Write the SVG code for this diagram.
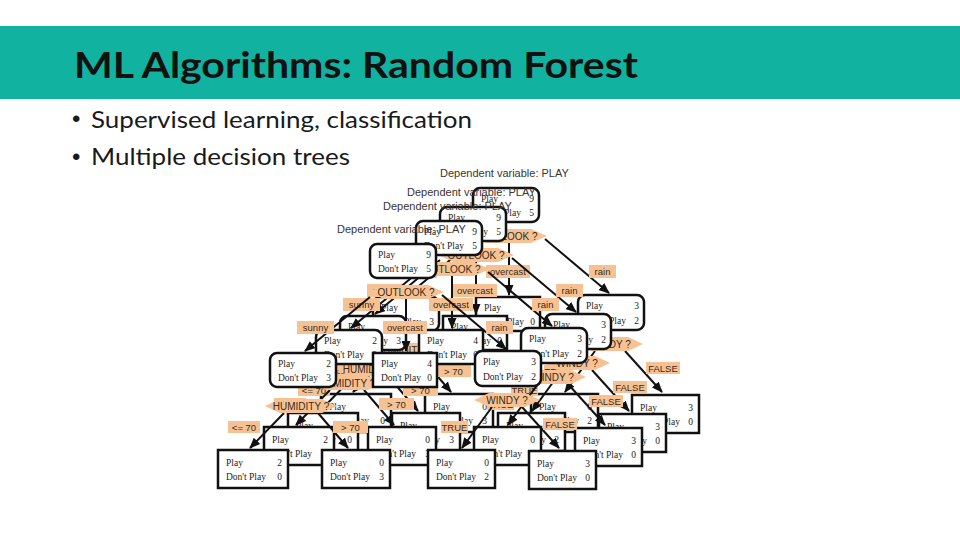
<svg xmlns="http://www.w3.org/2000/svg" width="960" height="540" viewBox="0 0 960 540">
<defs>
<style>
.box{fill:#fff;stroke:#111;stroke-width:2.5}
.t{font-family:"Liberation Serif",serif;font-size:9.5px;fill:#222}
.n{text-anchor:end}
.q{fill:#f6c293}
.ql{font-family:"Liberation Sans",sans-serif;font-size:10px;fill:#3a2a1a;text-anchor:middle}
.lb{fill:#f6c293}
.lt{font-family:"Liberation Sans",sans-serif;font-size:9.5px;fill:#3a2a1a;text-anchor:middle}
.e{stroke:#111;stroke-width:2;fill:none;marker-end:url(#ah)}
.dv{font-family:"Liberation Sans",sans-serif;font-size:11px;fill:#3a3430}
.title{font-family:"Lato","Liberation Sans",sans-serif;font-weight:bold;font-size:37px;fill:#111}
.bul{font-family:"Lato","Liberation Sans",sans-serif;font-size:24px;fill:#1a1a1a}
.dot{font-family:"Liberation Sans",sans-serif;font-size:24px;fill:#1a1a1a}
</style>
<marker id="ah" markerUnits="userSpaceOnUse" markerWidth="11" markerHeight="9" refX="10" refY="4.5" orient="auto">
<path d="M0,0 L11,4.5 L0,9 Z" fill="#111"/>
</marker>
</defs>
<rect x="0" y="0" width="960" height="540" fill="#fff"/>
<g id="header">
<rect x="0" y="26" width="960" height="73" fill="#12b2a0"/>
<text class="title" x="74" y="78" textLength="564" lengthAdjust="spacingAndGlyphs">ML Algorithms: Random Forest</text>
</g>
<g id="bullets">
<text class="dot" x="72" y="127">•</text>
<text class="bul" x="91" y="128" textLength="381" lengthAdjust="spacingAndGlyphs">Supervised learning, classification</text>
<text class="dot" x="72" y="165">•</text>
<text class="bul" x="91" y="165" textLength="259" lengthAdjust="spacingAndGlyphs">Multiple decision trees</text>
</g>

<!-- TREE 1 (back) -->
<g id="tree1" transform="translate(103,-56)">
<g id="tree1-connectors">
<line class="e" x1="370" y1="297" x2="305" y2="351"/>
<line class="e" x1="406" y1="299" x2="406" y2="351"/>
<line class="e" x1="442" y1="295" x2="506" y2="349"/>
<line class="e" x1="284" y1="413" x2="250" y2="448"/>
<line class="e" x1="318" y1="413" x2="348" y2="448"/>
<line class="e" x1="492" y1="407" x2="462" y2="448"/>
<line class="e" x1="522" y1="407" x2="559" y2="448"/>
<rect class="lb" x="297" y="321" width="37" height="13"/><text class="lt" x="315.5" y="331">sunny</text>
<rect class="lb" x="383" y="321" width="44" height="13"/><text class="lt" x="405" y="331">overcast</text>
<rect class="lb" x="486" y="321" width="27" height="13"/><text class="lt" x="499.5" y="331">rain</text>
<rect class="lb" x="228" y="421" width="32" height="12"/><text class="lt" x="244" y="430.5">&lt;= 70</text>
<rect class="lb" x="333" y="421" width="35" height="12"/><text class="lt" x="350.5" y="430.5">&gt; 70</text>
<rect class="lb" x="441" y="421" width="27" height="12"/><text class="lt" x="454.5" y="430.5">TRUE</text>
<rect class="lb" x="543" y="418" width="34" height="12"/><text class="lt" x="560" y="427.5">FALSE</text>
</g>
<g id="tree1-root">
<text class="dv" x="337" y="233">Dependent variable: PLAY</text>
<rect class="box" x="370" y="244" width="66" height="34" rx="7"/>
<text class="t" x="378" y="258">Play</text><text class="t n" x="431" y="258">9</text>
<text class="t" x="378" y="272">Don't Play</text><text class="t n" x="431" y="272">5</text>
<polygon class="q" points="368,292 384,285 428,285 444,292 428,299 384,299"/>
<text class="ql" x="406" y="296">OUTLOOK ?</text>
</g>
<g id="tree1-sunny">
<rect class="box" x="270" y="353" width="66" height="34" rx="7"/>
<text class="t" x="278" y="367">Play</text><text class="t n" x="331" y="367">2</text>
<text class="t" x="278" y="381">Don't Play</text><text class="t n" x="331" y="381">3</text>
<polygon class="q" points="265,406 280,399 322,399 337,406 322,413 280,413"/>
<text class="ql" x="301" y="410">HUMIDITY ?</text>
</g>
<g id="tree1-overcast">
<rect class="box" x="373" y="353" width="64" height="34"/>
<text class="t" x="381" y="367">Play</text><text class="t n" x="432" y="367">4</text>
<text class="t" x="381" y="381">Don't Play</text><text class="t n" x="432" y="381">0</text>
</g>
<g id="tree1-rain">
<rect class="box" x="475" y="351" width="66" height="35" rx="7"/>
<text class="t" x="483" y="365">Play</text><text class="t n" x="536" y="365">3</text>
<text class="t" x="483" y="380">Don't Play</text><text class="t n" x="536" y="380">2</text>
<polygon class="q" points="474,400 489,393 525,393 540,400 525,407 489,407"/>
<text class="ql" x="507" y="404">WINDY ?</text>
</g>
<g id="tree1-leaf1">
<rect class="box" x="218" y="450" width="70" height="38"/>
<text class="t" x="226" y="466">Play</text><text class="t n" x="282" y="466">2</text>
<text class="t" x="226" y="480">Don't Play</text><text class="t n" x="282" y="480">0</text>
</g>
<g id="tree1-leaf2">
<rect class="box" x="322" y="450" width="68" height="38"/>
<text class="t" x="330" y="466">Play</text><text class="t n" x="384" y="466">0</text>
<text class="t" x="330" y="480">Don't Play</text><text class="t n" x="384" y="480">3</text>
</g>
<g id="tree1-leaf3">
<rect class="box" x="428" y="450" width="67" height="38"/>
<text class="t" x="436" y="466">Play</text><text class="t n" x="489" y="466">0</text>
<text class="t" x="436" y="480">Don't Play</text><text class="t n" x="489" y="480">2</text>
</g>
<g id="tree1-leaf4">
<rect class="box" x="529" y="451" width="67" height="38"/>
<text class="t" x="537" y="467">Play</text><text class="t n" x="590" y="467">3</text>
<text class="t" x="537" y="481">Don't Play</text><text class="t n" x="590" y="481">0</text>
</g>
</g>

<!-- TREE 2 -->
<g id="tree2" transform="translate(70,-37)">
<g id="tree2-connectors">
<line class="e" x1="370" y1="297" x2="305" y2="351"/>
<line class="e" x1="406" y1="299" x2="406" y2="351"/>
<line class="e" x1="442" y1="295" x2="506" y2="349"/>
<line class="e" x1="284" y1="413" x2="250" y2="448"/>
<line class="e" x1="318" y1="413" x2="348" y2="448"/>
<line class="e" x1="492" y1="407" x2="462" y2="448"/>
<line class="e" x1="522" y1="407" x2="559" y2="448"/>
<rect class="lb" x="297" y="321" width="37" height="13"/><text class="lt" x="315.5" y="331">sunny</text>
<rect class="lb" x="383" y="321" width="44" height="13"/><text class="lt" x="405" y="331">overcast</text>
<rect class="lb" x="486" y="321" width="27" height="13"/><text class="lt" x="499.5" y="331">rain</text>
<rect class="lb" x="228" y="421" width="32" height="12"/><text class="lt" x="244" y="430.5">&lt;= 70</text>
<rect class="lb" x="333" y="421" width="35" height="12"/><text class="lt" x="350.5" y="430.5">&gt; 70</text>
<rect class="lb" x="441" y="421" width="27" height="12"/><text class="lt" x="454.5" y="430.5">TRUE</text>
<rect class="lb" x="543" y="418" width="34" height="12"/><text class="lt" x="560" y="427.5">FALSE</text>
</g>
<g id="tree2-root">
<text class="dv" x="337" y="233">Dependent variable: PLAY</text>
<rect class="box" x="370" y="244" width="66" height="34" rx="7"/>
<text class="t" x="378" y="258">Play</text><text class="t n" x="431" y="258">9</text>
<text class="t" x="378" y="272">Don't Play</text><text class="t n" x="431" y="272">5</text>
<polygon class="q" points="368,292 384,285 428,285 444,292 428,299 384,299"/>
<text class="ql" x="406" y="296">OUTLOOK ?</text>
</g>
<g id="tree2-sunny">
<rect class="box" x="270" y="353" width="66" height="34" rx="7"/>
<text class="t" x="278" y="367">Play</text><text class="t n" x="331" y="367">2</text>
<text class="t" x="278" y="381">Don't Play</text><text class="t n" x="331" y="381">3</text>
<polygon class="q" points="265,406 280,399 322,399 337,406 322,413 280,413"/>
<text class="ql" x="301" y="410">HUMIDITY ?</text>
</g>
<g id="tree2-overcast">
<rect class="box" x="373" y="353" width="64" height="34"/>
<text class="t" x="381" y="367">Play</text><text class="t n" x="432" y="367">4</text>
<text class="t" x="381" y="381">Don't Play</text><text class="t n" x="432" y="381">0</text>
</g>
<g id="tree2-rain">
<rect class="box" x="475" y="351" width="66" height="35" rx="7"/>
<text class="t" x="483" y="365">Play</text><text class="t n" x="536" y="365">3</text>
<text class="t" x="483" y="380">Don't Play</text><text class="t n" x="536" y="380">2</text>
<polygon class="q" points="474,400 489,393 525,393 540,400 525,407 489,407"/>
<text class="ql" x="507" y="404">WINDY ?</text>
</g>
<g id="tree2-leaf1">
<rect class="box" x="218" y="450" width="70" height="38"/>
<text class="t" x="226" y="466">Play</text><text class="t n" x="282" y="466">2</text>
<text class="t" x="226" y="480">Don't Play</text><text class="t n" x="282" y="480">0</text>
</g>
<g id="tree2-leaf2">
<rect class="box" x="322" y="450" width="68" height="38"/>
<text class="t" x="330" y="466">Play</text><text class="t n" x="384" y="466">0</text>
<text class="t" x="330" y="480">Don't Play</text><text class="t n" x="384" y="480">3</text>
</g>
<g id="tree2-leaf3">
<rect class="box" x="428" y="450" width="67" height="38"/>
<text class="t" x="436" y="466">Play</text><text class="t n" x="489" y="466">0</text>
<text class="t" x="436" y="480">Don't Play</text><text class="t n" x="489" y="480">2</text>
</g>
<g id="tree2-leaf4">
<rect class="box" x="529" y="451" width="67" height="38"/>
<text class="t" x="537" y="467">Play</text><text class="t n" x="590" y="467">3</text>
<text class="t" x="537" y="481">Don't Play</text><text class="t n" x="590" y="481">0</text>
</g>
</g>

<!-- TREE 3 -->
<g id="tree3" transform="translate(46,-23)">
<g id="tree3-connectors">
<line class="e" x1="370" y1="297" x2="305" y2="351"/>
<line class="e" x1="406" y1="299" x2="406" y2="351"/>
<line class="e" x1="442" y1="295" x2="506" y2="349"/>
<line class="e" x1="284" y1="413" x2="250" y2="448"/>
<line class="e" x1="318" y1="413" x2="348" y2="448"/>
<line class="e" x1="492" y1="407" x2="462" y2="448"/>
<line class="e" x1="522" y1="407" x2="559" y2="448"/>
<rect class="lb" x="297" y="321" width="37" height="13"/><text class="lt" x="315.5" y="331">sunny</text>
<rect class="lb" x="383" y="321" width="44" height="13"/><text class="lt" x="405" y="331">overcast</text>
<rect class="lb" x="486" y="321" width="27" height="13"/><text class="lt" x="499.5" y="331">rain</text>
<rect class="lb" x="228" y="421" width="32" height="12"/><text class="lt" x="244" y="430.5">&lt;= 70</text>
<rect class="lb" x="333" y="421" width="35" height="12"/><text class="lt" x="350.5" y="430.5">&gt; 70</text>
<rect class="lb" x="441" y="421" width="27" height="12"/><text class="lt" x="454.5" y="430.5">TRUE</text>
<rect class="lb" x="543" y="418" width="34" height="12"/><text class="lt" x="560" y="427.5">FALSE</text>
</g>
<g id="tree3-root">
<text class="dv" x="337" y="233">Dependent variable: PLAY</text>
<rect class="box" x="370" y="244" width="66" height="34" rx="7"/>
<text class="t" x="378" y="258">Play</text><text class="t n" x="431" y="258">9</text>
<text class="t" x="378" y="272">Don't Play</text><text class="t n" x="431" y="272">5</text>
<polygon class="q" points="368,292 384,285 428,285 444,292 428,299 384,299"/>
<text class="ql" x="406" y="296">OUTLOOK ?</text>
</g>
<g id="tree3-sunny">
<rect class="box" x="270" y="353" width="66" height="34" rx="7"/>
<text class="t" x="278" y="367">Play</text><text class="t n" x="331" y="367">2</text>
<text class="t" x="278" y="381">Don't Play</text><text class="t n" x="331" y="381">3</text>
<polygon class="q" points="265,406 280,399 322,399 337,406 322,413 280,413"/>
<text class="ql" x="301" y="410">HUMIDITY ?</text>
</g>
<g id="tree3-overcast">
<rect class="box" x="373" y="353" width="64" height="34"/>
<text class="t" x="381" y="367">Play</text><text class="t n" x="432" y="367">4</text>
<text class="t" x="381" y="381">Don't Play</text><text class="t n" x="432" y="381">0</text>
</g>
<g id="tree3-rain">
<rect class="box" x="475" y="351" width="66" height="35" rx="7"/>
<text class="t" x="483" y="365">Play</text><text class="t n" x="536" y="365">3</text>
<text class="t" x="483" y="380">Don't Play</text><text class="t n" x="536" y="380">2</text>
<polygon class="q" points="474,400 489,393 525,393 540,400 525,407 489,407"/>
<text class="ql" x="507" y="404">WINDY ?</text>
</g>
<g id="tree3-leaf1">
<rect class="box" x="218" y="450" width="70" height="38"/>
<text class="t" x="226" y="466">Play</text><text class="t n" x="282" y="466">2</text>
<text class="t" x="226" y="480">Don't Play</text><text class="t n" x="282" y="480">0</text>
</g>
<g id="tree3-leaf2">
<rect class="box" x="322" y="450" width="68" height="38"/>
<text class="t" x="330" y="466">Play</text><text class="t n" x="384" y="466">0</text>
<text class="t" x="330" y="480">Don't Play</text><text class="t n" x="384" y="480">3</text>
</g>
<g id="tree3-leaf3">
<rect class="box" x="428" y="450" width="67" height="38"/>
<text class="t" x="436" y="466">Play</text><text class="t n" x="489" y="466">0</text>
<text class="t" x="436" y="480">Don't Play</text><text class="t n" x="489" y="480">2</text>
</g>
<g id="tree3-leaf4">
<rect class="box" x="529" y="451" width="67" height="38"/>
<text class="t" x="537" y="467">Play</text><text class="t n" x="590" y="467">3</text>
<text class="t" x="537" y="481">Don't Play</text><text class="t n" x="590" y="481">0</text>
</g>
</g>

<!-- TREE 4 (front) -->
<g id="tree4">
<g id="tree4-connectors">
<line class="e" x1="370" y1="297" x2="305" y2="351"/>
<line class="e" x1="406" y1="299" x2="406" y2="351"/>
<line class="e" x1="442" y1="295" x2="506" y2="349"/>
<line class="e" x1="284" y1="413" x2="250" y2="448"/>
<line class="e" x1="318" y1="413" x2="348" y2="448"/>
<line class="e" x1="492" y1="407" x2="462" y2="448"/>
<line class="e" x1="522" y1="407" x2="559" y2="448"/>
<rect class="lb" x="297" y="321" width="37" height="13"/><text class="lt" x="315.5" y="331">sunny</text>
<rect class="lb" x="383" y="321" width="44" height="13"/><text class="lt" x="405" y="331">overcast</text>
<rect class="lb" x="486" y="321" width="27" height="13"/><text class="lt" x="499.5" y="331">rain</text>
<rect class="lb" x="228" y="421" width="32" height="12"/><text class="lt" x="244" y="430.5">&lt;= 70</text>
<rect class="lb" x="333" y="421" width="35" height="12"/><text class="lt" x="350.5" y="430.5">&gt; 70</text>
<rect class="lb" x="441" y="421" width="27" height="12"/><text class="lt" x="454.5" y="430.5">TRUE</text>
<rect class="lb" x="543" y="418" width="34" height="12"/><text class="lt" x="560" y="427.5">FALSE</text>
</g>
<g id="tree4-root">
<text class="dv" x="337" y="233">Dependent variable: PLAY</text>
<rect class="box" x="370" y="244" width="66" height="34" rx="7"/>
<text class="t" x="378" y="258">Play</text><text class="t n" x="431" y="258">9</text>
<text class="t" x="378" y="272">Don't Play</text><text class="t n" x="431" y="272">5</text>
<polygon class="q" points="368,292 384,285 428,285 444,292 428,299 384,299"/>
<text class="ql" x="406" y="296">OUTLOOK ?</text>
</g>
<g id="tree4-sunny">
<rect class="box" x="270" y="353" width="66" height="34" rx="7"/>
<text class="t" x="278" y="367">Play</text><text class="t n" x="331" y="367">2</text>
<text class="t" x="278" y="381">Don't Play</text><text class="t n" x="331" y="381">3</text>
<polygon class="q" points="265,406 280,399 322,399 337,406 322,413 280,413"/>
<text class="ql" x="301" y="410">HUMIDITY ?</text>
</g>
<g id="tree4-overcast">
<rect class="box" x="373" y="353" width="64" height="34"/>
<text class="t" x="381" y="367">Play</text><text class="t n" x="432" y="367">4</text>
<text class="t" x="381" y="381">Don't Play</text><text class="t n" x="432" y="381">0</text>
</g>
<g id="tree4-rain">
<rect class="box" x="475" y="351" width="66" height="35" rx="7"/>
<text class="t" x="483" y="365">Play</text><text class="t n" x="536" y="365">3</text>
<text class="t" x="483" y="380">Don't Play</text><text class="t n" x="536" y="380">2</text>
<polygon class="q" points="474,400 489,393 525,393 540,400 525,407 489,407"/>
<text class="ql" x="507" y="404">WINDY ?</text>
</g>
<g id="tree4-leaf1">
<rect class="box" x="218" y="450" width="70" height="38"/>
<text class="t" x="226" y="466">Play</text><text class="t n" x="282" y="466">2</text>
<text class="t" x="226" y="480">Don't Play</text><text class="t n" x="282" y="480">0</text>
</g>
<g id="tree4-leaf2">
<rect class="box" x="322" y="450" width="68" height="38"/>
<text class="t" x="330" y="466">Play</text><text class="t n" x="384" y="466">0</text>
<text class="t" x="330" y="480">Don't Play</text><text class="t n" x="384" y="480">3</text>
</g>
<g id="tree4-leaf3">
<rect class="box" x="428" y="450" width="67" height="38"/>
<text class="t" x="436" y="466">Play</text><text class="t n" x="489" y="466">0</text>
<text class="t" x="436" y="480">Don't Play</text><text class="t n" x="489" y="480">2</text>
</g>
<g id="tree4-leaf4">
<rect class="box" x="529" y="451" width="67" height="38"/>
<text class="t" x="537" y="467">Play</text><text class="t n" x="590" y="467">3</text>
<text class="t" x="537" y="481">Don't Play</text><text class="t n" x="590" y="481">0</text>
</g>
</g>
</svg>
